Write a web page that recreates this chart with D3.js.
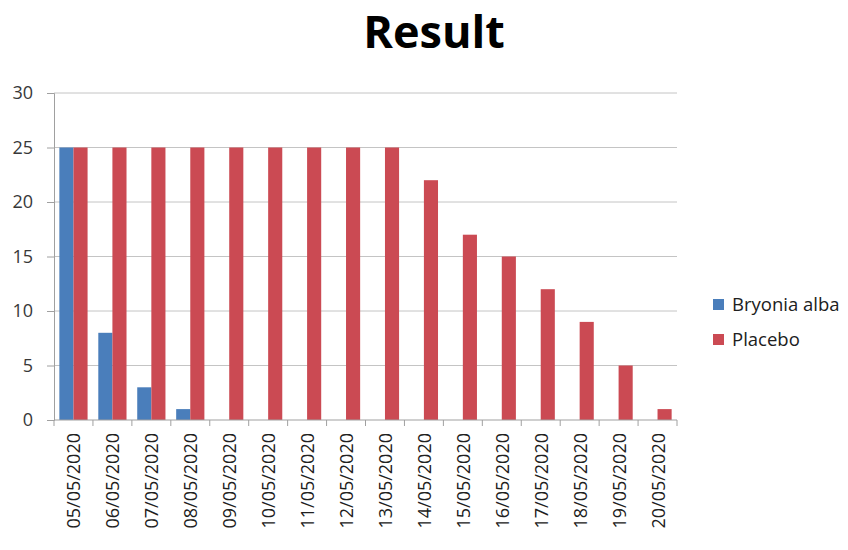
<!DOCTYPE html>
<html>
<head>
<meta charset="utf-8">
<script src="https://cdn.jsdelivr.net/npm/d3@7"></script>
<style>
  html, body { margin: 0; padding: 0; background: #fff; }
  svg { display: block; }
  text { font-family: "Open Sans", Lato, sans-serif; }
</style>
</head>
<body>
<svg id="chart" width="848" height="550"></svg>
<script>
// Daily counts for the two groups
const dates = ["05/05/2020","06/05/2020","07/05/2020","08/05/2020","09/05/2020","10/05/2020",
  "11/05/2020","12/05/2020","13/05/2020","14/05/2020","15/05/2020","16/05/2020",
  "17/05/2020","18/05/2020","19/05/2020","20/05/2020"];
const seriesNames = ["Bryonia alba", "Placebo"];
const bryoniaAlba = [25, 8, 3, 1, 0, 0, 0, 0, 0, 0, 0, 0, 0, 0, 0, 0];
const placebo = [25, 25, 25, 25, 25, 25, 25, 25, 25, 22, 17, 15, 12, 9, 5, 1];
const yTicks = [0, 5, 10, 15, 20, 25, 30];
const colors = ["#4A7EBB", "#CB4A53"];

const svg = d3.select("#chart");
const plotLeft = 54, plotRight = 677, plotTop = 93, plotBottom = 420;

const x = d3.scaleBand().domain(dates).range([plotLeft, plotRight]).paddingInner(0).paddingOuter(0);
const y = d3.scaleLinear().domain([0, 30]).range([plotBottom, plotTop]);
const inner = d3.scaleBand().domain(seriesNames).range([0, x.bandwidth()]).paddingInner(0).paddingOuter(0.38);

// Title
svg.append("text")
  .attr("x", 434).attr("y", 48)
  .attr("text-anchor", "middle")
  .attr("font-size", 45).attr("font-weight", "bold")
  .attr("fill", "#000")
  .text("Result");

// Horizontal gridlines
svg.append("g").selectAll("line").data(yTicks.filter(d => d > 0)).join("line")
  .attr("x1", plotLeft).attr("x2", plotRight)
  .attr("y1", d => y(d)).attr("y2", d => y(d))
  .attr("stroke", "#C4C4C4").attr("stroke-width", 1);

// Y axis
const yAxis = svg.append("g").attr("transform", `translate(${plotLeft},0)`)
  .call(d3.axisLeft(y).tickValues(yTicks).tickSize(7).tickPadding(14));
yAxis.select(".domain").attr("stroke", "#A0A0A0");
yAxis.selectAll(".tick line").attr("stroke", "#A0A0A0");
yAxis.selectAll(".tick text").attr("font-size", 18).attr("fill", "#383838")
  .attr("font-family", "'Open Sans', Lato, sans-serif");

// Bars
const data = dates.map((d, i) => ({ date: d, values: [bryoniaAlba[i], placebo[i]] }));
const groups = svg.append("g").selectAll("g").data(data).join("g")
  .attr("transform", d => `translate(${x(d.date)},0)`);
groups.selectAll("rect")
  .data(d => d.values.map((v, k) => ({ name: seriesNames[k], value: v, k })))
  .join("rect")
  .attr("x", d => inner(d.name))
  .attr("width", inner.bandwidth())
  .attr("y", d => y(d.value))
  .attr("height", d => y(0) - y(d.value))
  .attr("fill", d => colors[d.k]);

// X axis with tick marks at category boundaries
const xAxis = svg.append("g").attr("transform", `translate(0,${plotBottom})`);
xAxis.append("line").attr("x1", plotLeft).attr("x2", plotRight)
  .attr("stroke", "#A0A0A0");
xAxis.selectAll("line.tk").data(dates.concat(["end"])).join("line")
  .attr("class", "tk")
  .attr("x1", (d, i) => i < dates.length ? x(d) : plotRight)
  .attr("x2", (d, i) => i < dates.length ? x(d) : plotRight)
  .attr("y1", 0).attr("y2", 6)
  .attr("stroke", "#A0A0A0");
xAxis.selectAll("text").data(dates).join("text")
  .attr("transform", d => `translate(${x(d) + x.bandwidth() / 2 + 7},13) rotate(-90)`)
  .attr("text-anchor", "end")
  .attr("font-size", 18)
  .attr("fill", "#202020")
  .text(d => d);

// Legend
const legend = svg.append("g").selectAll("g").data(seriesNames).join("g")
  .attr("transform", (d, i) => `translate(713,${299 + i * 35})`);
legend.append("rect").attr("width", 11).attr("height", 11).attr("fill", (d, i) => colors[i]);
legend.append("text").attr("x", 19).attr("y", 11.5)
  .attr("font-size", 18.5).attr("fill", "#202020").text(d => d);
</script>
</body>
</html>
